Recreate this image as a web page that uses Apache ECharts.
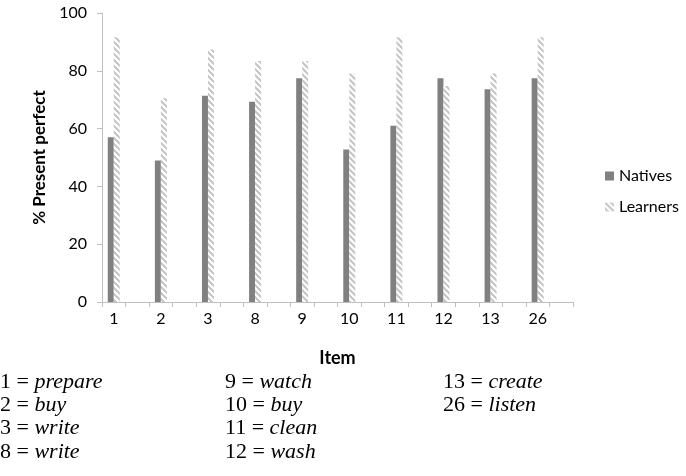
<!DOCTYPE html>
<html>
<head>
<meta charset="utf-8">
<script src="https://cdn.jsdelivr.net/npm/echarts@6/dist/echarts.min.js"></script>
<style>
  html, body { margin: 0; padding: 0; background: #fff; }
  #chart { width: 686px; height: 476px; }
</style>
</head>
<body>
<div id="chart"></div>
<script>
// items on the x axis
const items = ["1", "2", "3", "8", "9", "10", "11", "12", "13", "26"];
const natives = [57, 49, 71.4, 69.3, 77.4, 52.8, 61, 77.4, 73.6, 77.4];
const learners = [91.6, 70.5, 87.4, 83.4, 83.4, 79.1, 91.6, 74.7, 79.1, 91.6];
const yTicks = [0, 20, 40, 60, 80, 100];
// key under the chart, three columns
const keyCols = [
  [["1", "prepare"], ["2", "buy"], ["3", "write"], ["8", "write"]],
  [["9", "watch"], ["10", "buy"], ["11", "clean"], ["12", "wash"]],
  [["13", "create"], ["26", "listen"]]
];

// excel leaves an empty slot after each item
const cats = [], natData = [], lrnData = [];
items.forEach((it, i) => {
  cats.push(it, "");
  natData.push(natives[i], null);
  lrnData.push(learners[i], null);
});

// diagonal hatch for learners
function hatch() {
  const c = document.createElement("canvas");
  c.width = 6; c.height = 6;
  const ctx = c.getContext("2d");
  ctx.fillStyle = "#fff";
  ctx.fillRect(0, 0, 6, 6);
  ctx.strokeStyle = "#c4c4c4";
  ctx.lineWidth = 2;
  ctx.beginPath();
  ctx.moveTo(-1, -1); ctx.lineTo(7, 7);
  ctx.moveTo(-4, 2); ctx.lineTo(4, 10);
  ctx.moveTo(2, -4); ctx.lineTo(10, 4);
  ctx.stroke();
  return c;
}

// key text: upright "n = " then the italic verb
const upFont = '22px "Liberation Serif"';
const itFont = 'italic 22px "Liberation Serif"';
const meas = document.createElement("canvas").getContext("2d");
meas.font = upFont;
const keyText = [];
const colX = [0, 225, 443];
const rowTop = [371, 394, 417, 441];
keyCols.forEach((col, ci) => {
  col.forEach((r, ri) => {
    const head = r[0] + " = ";
    keyText.push({
      type: "text", x: colX[ci], y: rowTop[ri],
      style: { text: head, font: upFont, fill: "#000", verticalAlign: "top" }
    });
    keyText.push({
      type: "text", x: colX[ci] + meas.measureText(head).width, y: rowTop[ri],
      style: { text: r[1], font: itFont, fill: "#000", verticalAlign: "top" }
    });
  });
});

const chart = echarts.init(document.getElementById("chart"));
chart.setOption({
  animation: false,
  textStyle: { fontFamily: "Lato" },
  grid: { left: 102, right: 113, top: 13, bottom: 174, containLabel: false },
  legend: {
    orient: "vertical",
    left: 600,
    top: 163,
    itemWidth: 9,
    itemHeight: 9,
    itemGap: 15,
    icon: "rect",
    textStyle: { fontSize: 16, color: "#000", fontFamily: "Lato" },
    data: ["Natives", "Learners"]
  },
  xAxis: {
    type: "category",
    data: cats,
    name: "Item",
    nameLocation: "middle",
    nameGap: 47,
    nameTextStyle: { fontSize: 18, fontWeight: "bold", color: "#000", fontFamily: "Lato" },
    axisLine: { lineStyle: { color: "#bfbfbf", width: 1 } },
    axisTick: { show: true, interval: 0, length: 5, lineStyle: { color: "#bfbfbf" } },
    axisLabel: { interval: 0, margin: 9, fontSize: 16, color: "#000", fontFamily: "Lato" }
  },
  yAxis: {
    type: "value",
    min: 0,
    max: 100,
    interval: 20,
    name: "% Present perfect",
    nameLocation: "middle",
    nameGap: 54,
    nameTextStyle: { fontSize: 17, fontWeight: "bold", color: "#000", fontFamily: "Lato" },
    axisLine: { show: true, lineStyle: { color: "#bfbfbf", width: 1 } },
    axisTick: { show: true, length: 5, lineStyle: { color: "#bfbfbf" } },
    axisLabel: {
      fontSize: 16, color: "#000", margin: 15, fontFamily: "Lato",
      formatter: v => (yTicks.includes(v) ? String(v) : "")
    },
    splitLine: { show: false }
  },
  series: [
    {
      name: "Natives",
      type: "bar",
      data: natData,
      barWidth: 6,
      barGap: "0%",
      itemStyle: { color: "#808080" }
    },
    {
      name: "Learners",
      type: "bar",
      data: lrnData,
      barWidth: 6,
      itemStyle: { color: { image: hatch(), repeat: "repeat" } }
    }
  ],
  graphic: keyText
});
</script>
</body>
</html>
